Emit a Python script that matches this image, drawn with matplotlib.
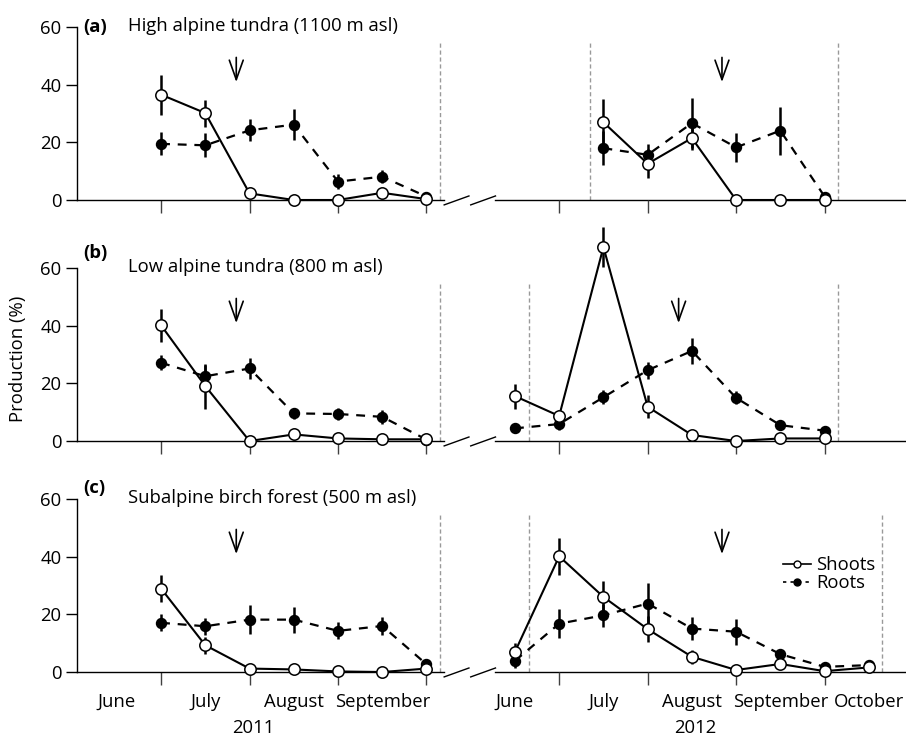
import matplotlib
matplotlib.use('Agg')
import matplotlib.pyplot as plt

plt.rcParams['font.family'] = ['Open Sans', 'DejaVu Sans']

# x positions in months after 1 June 2011 (2012 season shifted by 4.5 for the axis break)
x_2011 = [1.0, 1.5, 2.0, 2.5, 3.0, 3.5, 4.0]

# (a) High alpine tundra
a_x12 = [6.0, 6.5, 7.0, 7.5, 8.0, 8.5]
a_shoots11 = [36.6, 30.2, 2.3, 0.0, 0.0, 2.5, 0.3]
a_shoots11_se = [7.0, 4.7, 0.8, 0.0, 0.0, 0.8, 0.0]
a_roots11 = [19.5, 19.0, 24.2, 26.2, 6.4, 8.1, 1.2]
a_roots11_se = [4.0, 4.2, 3.8, 5.3, 2.5, 2.2, 0.5]
a_shoots12 = [27.0, 12.6, 21.5, 0.0, 0.0, 0.0]
a_shoots12_se = [8.0, 5.0, 4.0, 0.0, 0.0, 0.0]
a_roots12 = [18.0, 15.7, 26.7, 18.3, 24.1, 1.2]
a_roots12_se = [6.0, 3.8, 8.8, 5.0, 8.3, 0.5]

# (b) Low alpine tundra
b_x12 = [5.0, 5.5, 6.0, 6.5, 7.0, 7.5, 8.0, 8.5]
b_shoots11 = [40.2, 19.1, 0.0, 2.3, 0.9, 0.6, 0.6]
b_shoots11_se = [5.7, 7.8, 0.5, 1.5, 0.5, 0.3, 0.3]
b_roots11 = [27.2, 22.5, 25.2, 9.6, 9.4, 8.4, 0.5]
b_roots11_se = [2.6, 4.0, 3.5, 2.0, 2.0, 2.5, 0.3]
b_shoots12 = [15.6, 8.7, 67.4, 11.9, 2.1, 0.0, 0.9, 0.9]
b_shoots12_se = [4.3, 2.0, 7.0, 4.0, 1.0, 0.0, 0.5, 0.5]
b_roots12 = [4.4, 5.9, 15.2, 24.6, 31.3, 15.0, 5.5, 3.6]
b_roots12_se = [1.5, 2.0, 2.5, 3.0, 4.5, 2.3, 1.5, 1.0]

# (c) Subalpine birch forest
c_x12 = [5.0, 5.5, 6.0, 6.5, 7.0, 7.5, 8.0, 8.5, 9.0]
c_shoots11 = [29.0, 9.3, 1.2, 0.9, 0.2, 0.0, 1.2]
c_shoots11_se = [4.8, 3.0, 0.5, 0.5, 0.3, 0.0, 0.5]
c_roots11 = [17.1, 15.9, 18.2, 18.2, 14.3, 16.0, 2.7]
c_roots11_se = [3.0, 3.0, 5.0, 4.5, 3.0, 3.0, 1.0]
c_shoots12 = [7.0, 40.2, 26.1, 14.9, 5.3, 0.7, 2.8, 0.3, 1.6]
c_shoots12_se = [3.0, 6.5, 5.5, 4.4, 2.5, 0.5, 1.0, 0.5, 0.5]
c_roots12 = [3.9, 16.8, 19.7, 23.8, 15.1, 14.0, 6.2, 1.8, 2.4]
c_roots12_se = [2.5, 5.0, 4.0, 7.0, 4.0, 4.5, 1.5, 0.5, 0.5]

# season boundaries (grey dashed) and harvest arrows
a_bounds = [4.15, 5.85, 8.65]
b_bounds = [4.15, 5.16, 8.65]
c_bounds = [4.15, 5.16, 9.15]
a_arrows = [1.85, 7.34]
b_arrows = [1.85, 6.85]
c_arrows = [1.85, 7.34]

month_ticks = [1, 2, 3, 4, 5.5, 6.5, 7.5, 8.5]
month_pos = [0.5, 1.5, 2.5, 3.5, 5.0, 6.0, 7.0, 8.0, 9.0]
month_names = ['June', 'July', 'August', 'September',
               'June', 'July', 'August', 'September', 'October']
years = ['2011', '2012']
year_pos = [2.04, 7.04]

panels = [
    ('(a)', 'High alpine tundra (1100 m asl)', 60, a_x12,
     a_shoots11, a_shoots11_se, a_roots11, a_roots11_se,
     a_shoots12, a_shoots12_se, a_roots12, a_roots12_se, a_bounds, a_arrows),
    ('(b)', 'Low alpine tundra (800 m asl)', 65.2, b_x12,
     b_shoots11, b_shoots11_se, b_roots11, b_roots11_se,
     b_shoots12, b_shoots12_se, b_roots12, b_roots12_se, b_bounds, b_arrows),
    ('(c)', 'Subalpine birch forest (500 m asl)', 64, c_x12,
     c_shoots11, c_shoots11_se, c_roots11, c_roots11_se,
     c_shoots12, c_shoots12_se, c_roots12, c_roots12_se, c_bounds, c_arrows),
]

fig = plt.figure(figsize=(9.06, 7.38), dpi=100)
bottoms = [0.729, 0.4024, 0.0894]
FS = 13.3
XMIN, XMAX = 0.05, 9.42

for i, (tag, title, tag_y, x12, s11, s11e, r11, r11e, s12, s12e, r12, r12e, bounds, arrows) in enumerate(panels):
    ax = fig.add_axes([0.085, bottoms[i], 0.915, 0.234])
    ax.set_xlim(XMIN, XMAX)
    ax.set_ylim(0, 60)

    for xb in bounds:
        ax.plot([xb, xb], [0, 55], color='0.6', lw=1, ls=(0, (3, 2)), zorder=1)

    for xs, ys, es, yr, er in [(x_2011, s11, s11e, r11, r11e), (x12, s12, s12e, r12, r12e)]:
        ax.errorbar(xs, yr, yerr=er, fmt='none', ecolor='k', elinewidth=1.8,
                    capsize=0, zorder=2, clip_on=False)
        ax.errorbar(xs, ys, yerr=es, fmt='none', ecolor='k', elinewidth=1.8,
                    capsize=0, zorder=2, clip_on=False)
        ax.plot(xs, yr, color='k', lw=1.6, ls=(0, (4, 3.5)), marker='o',
                ms=7.2, mfc='k', mec='k', zorder=3, clip_on=False)
        ax.plot(xs, ys, color='k', lw=1.5, ls='-', marker='o',
                ms=8.2, mfc='white', mec='k', mew=1.1, zorder=4, clip_on=False)

    for xa in arrows:
        ax.annotate('', xy=(xa, 40), xytext=(xa, 50.5),
                    arrowprops=dict(arrowstyle='->,head_length=0.7,head_width=0.25',
                                    lw=1.2, color='k', mutation_scale=20))

    ax.text(0.12, tag_y, tag, fontsize=FS, fontweight='bold', va='center', ha='left')
    ax.text(0.63, 60.3, title, fontsize=FS, va='center', ha='left')

    # axes styling
    for side in ['top', 'right']:
        ax.spines[side].set_visible(False)
    ax.spines['left'].set_bounds(0, 60)
    ax.spines['bottom'].set_bounds(XMIN, 4.2)
    ax.spines['left'].set_linewidth(1)
    ax.spines['bottom'].set_linewidth(1)
    # second part of broken x axis and the break marks
    ax.plot([4.77, XMAX], [0, 0], color='k', lw=1, clip_on=False, zorder=1)
    ax.plot([4.2, 4.48], [-1.7, 1.4], color='k', lw=1, clip_on=False)
    ax.plot([4.5, 4.78], [-1.7, 1.4], color='k', lw=1, clip_on=False)

    ax.set_yticks([0, 20, 40, 60])
    ax.tick_params(axis='y', direction='out', length=8, width=1, pad=3, labelsize=FS)
    ax.set_xticks(month_ticks)
    ax.tick_params(axis='x', which='major', direction='out', length=9, width=1,
                   color='0.25', labelbottom=False)
    if i == 2:
        ax.set_xticks(month_pos, minor=True)
        ax.set_xticklabels(month_names, minor=True)
        ax.tick_params(axis='x', which='minor', length=0, pad=15, labelsize=FS)
        for yr, xp in zip(years, year_pos):
            ax.text(xp, -0.322, yr, transform=ax.get_xaxis_transform(),
                    fontsize=FS, ha='center', va='center')
        ax.plot([], [], color='k', lw=1.2, ls='-', marker='o', ms=5,
                mfc='white', mec='k', label='Shoots')
        ax.plot([], [], color='k', lw=1.2, ls=(0, (2, 2.5)), marker='o', ms=5,
                mfc='k', mec='k', label='Roots')
        ax.legend(loc='upper left', bbox_to_anchor=(0.852, 0.672), frameon=False,
                  fontsize=FS, handlelength=1.5, handletextpad=0.3,
                  labelspacing=0.0, borderpad=0, borderaxespad=0)

fig.text(18 / 906, 1 - 359 / 738, 'Production (%)', rotation=90,
         fontsize=FS, ha='center', va='center')

fig.savefig('out.png', dpi=100)
